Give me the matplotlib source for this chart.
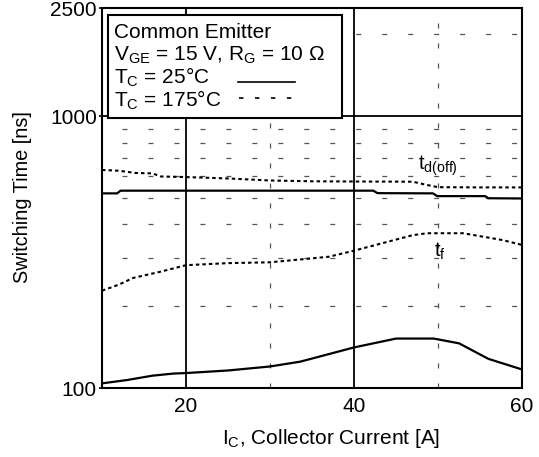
import numpy as np
import matplotlib
matplotlib.use("Agg")
import matplotlib.pyplot as plt
from matplotlib.patches import Rectangle
from matplotlib.lines import Line2D

plt.rcParams['font.family'] = ['Liberation Sans', 'DejaVu Sans']
plt.rcParams['mathtext.fontset'] = 'custom'
plt.rcParams['mathtext.rm'] = 'Liberation Sans'
plt.rcParams['mathtext.it'] = 'Liberation Sans:italic'
plt.rcParams['lines.scale_dashes'] = False

# t_d(off), Tc = 25 C (solid)
td_25_x = [10, 11.8, 12.2, 30, 42.3, 42.8, 49.4, 49.9, 55.6, 56.0, 60]
td_25_y = [520, 520, 532, 532, 532, 521, 520, 508, 508, 499, 498]
# t_d(off), Tc = 175 C (dashed)
td_175_x = [10, 12, 14, 16, 17, 20, 25, 30, 35, 40, 47, 48.5, 50, 55, 60]
td_175_y = [634, 630, 618, 616, 600, 597, 590, 580, 576, 575, 574, 560, 548, 547, 547]
# t_f, Tc = 25 C (solid)
tf_25_x = [10, 13, 16, 18.5, 20, 25, 30, 33.6, 40, 45, 49.5, 52.5, 56, 60]
tf_25_y = [104, 107, 111, 113, 113.5, 116, 120, 125, 141, 152, 152, 146, 128, 117]
# t_f, Tc = 175 C (dashed)
tf_175_x = [10, 12, 13.7, 17, 20, 25, 30, 37, 40, 44, 47, 48.7, 53, 57.7, 60]
tf_175_y = [228, 240, 254, 268, 283, 288, 290, 304, 320, 345, 365, 371, 371, 350, 336]

x_major = [20, 40, 60]
x_minor = [30, 50]
y_major = [100, 1000, 2500]
y_major_labels = ['100', '1000', '2500']
y_minor = [200, 300, 400, 500, 600, 700, 800, 900, 2000]

fig = plt.figure(figsize=(5.39, 4.57), dpi=100)
ax = fig.add_axes([102 / 539, 69 / 457, 420 / 539, 380 / 457])
ax.set_yscale('log')
ax.set_xlim(10, 60)
ax.set_ylim(100, 2500)

ax.set_xticks(x_major)
ax.set_xticklabels([str(v) for v in x_major])
ax.set_xticks(x_minor, minor=True)
ax.set_yticks(y_major)
ax.set_yticklabels(y_major_labels)
ax.set_yticks(y_minor, minor=True)
ax.yaxis.set_minor_formatter(plt.NullFormatter())
ax.tick_params(axis='x', which='both', length=0, pad=6.5, labelsize=15)
ax.tick_params(axis='y', which='major', length=2.5, width=1.2, pad=1.2, labelsize=15)
ax.tick_params(axis='y', which='minor', length=0)

ax.xaxis.grid(True, which='major', color='black', lw=1.3)
ax.yaxis.grid(True, which='major', color='black', lw=1.3)
ax.xaxis.grid(True, which='minor', color='#555555', lw=0.9, linestyle=(0, (3.6, 10.8)))
ax.yaxis.grid(True, which='minor', color='#555555', lw=0.9, linestyle=(4.3, (3.6, 15.1)))
ax.set_axisbelow(True)
for s in ax.spines.values():
    s.set_linewidth(1.5)

ax.plot(td_25_x, td_25_y, color='black', lw=1.6)
ax.plot(td_175_x, td_175_y, color='black', lw=1.5, linestyle=(0, (2.5, 2.2)))
ax.plot(tf_25_x, tf_25_y, color='black', lw=1.6)
ax.plot(tf_175_x, tf_175_y, color='black', lw=1.5, linestyle=(0, (2.5, 2.2)))

ax.text(47.6, 634, r't$_\mathrm{d(off)}$', fontsize=14.5, va='baseline', ha='left')
ax.text(49.5, 304, r't$_\mathrm{f}$', fontsize=14.5, va='baseline', ha='left')

# condition box
ax.add_patch(Rectangle((0.0143, 0.7105), 0.557, 0.271, transform=ax.transAxes,
                       facecolor='white', edgecolor='black', lw=1.5, zorder=5))
ax.text(0.0286, 0.921, 'Common Emitter', transform=ax.transAxes, fontsize=15,
        va='baseline', zorder=6)
ax.text(0.0286, 0.8605, r'V$_\mathrm{GE}$ = 15 V, R$_\mathrm{G}$ = 10 Ω', transform=ax.transAxes,
        fontsize=15, va='baseline', zorder=6)
ax.text(0.0286, 0.801, r'T$_\mathrm{C}$ = 25°C', transform=ax.transAxes, fontsize=15,
        va='baseline', zorder=6)
ax.text(0.0286, 0.7395, r'T$_\mathrm{C}$ = 175°C', transform=ax.transAxes, fontsize=15,
        va='baseline', zorder=6)
ax.add_line(Line2D([0.324, 0.4595], [0.806, 0.806], transform=ax.transAxes,
                   color='black', lw=1.2, zorder=6))
ax.add_line(Line2D([0.326, 0.455], [0.762, 0.762], transform=ax.transAxes,
                   color='black', lw=1.2, linestyle=(0, (3.2, 8.3)), zorder=6))

fig.text(23 / 539, 1 - 197 / 457, 'Switching Time [ns]', rotation=90,
         ha='center', va='center', fontsize=14.3)
fig.text(331 / 539, 1 - 439 / 457, r'I$_\mathrm{C}$, Collector Current [A]',
         ha='center', va='center', fontsize=15)

fig.savefig('out.png', dpi=100)
